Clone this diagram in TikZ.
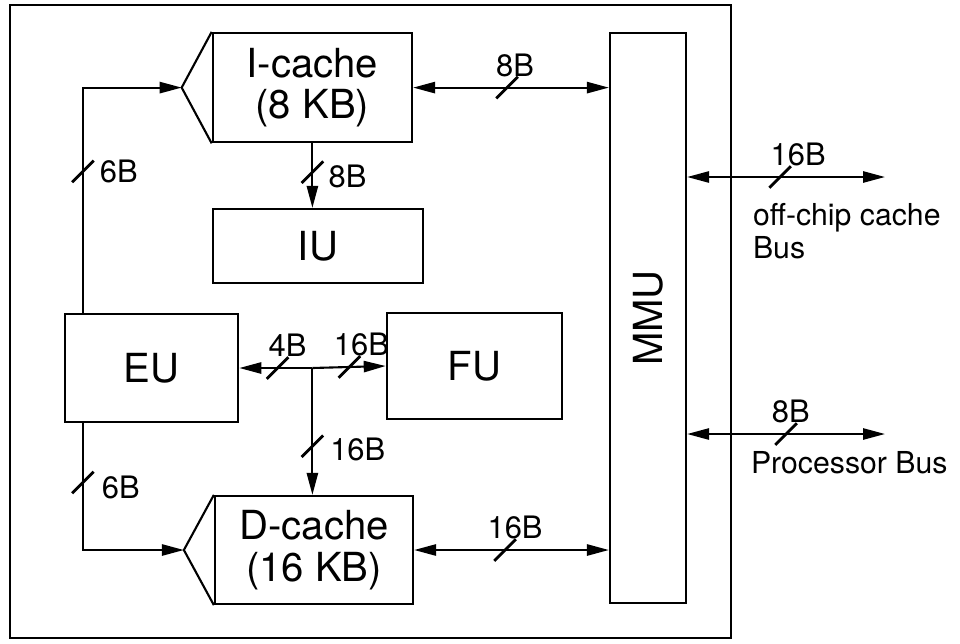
\documentclass[tikz,border=0pt]{standalone}
\usepackage{fontspec}
\setmainfont{TeX Gyre Heros}
\usetikzlibrary{calc,positioning,arrows.meta}

\begin{document}
\begin{tikzpicture}[
    >={Triangle[length=5.5mm,width=2.8mm]},
    line width=1.5pt,
    unit/.style={draw,line width=1.6pt,align=center,
      font=\fontsize{28.5}{29.5}\selectfont},
    wlabel/.style={inner sep=0pt,font=\fontsize{22}{24}\selectfont},
    note/.style={inner sep=0pt,anchor=north west,align=left,
      font=\fontsize{21.5}{23.5}\selectfont}
  ]
  \useasboundingbox (0,0) rectangle (24,-16.075);
  \draw[line width=1.7pt] (.25,-.125) rectangle (18.275,-15.95);

  \node[unit,minimum width=4.98cm,minimum height=2.73cm] (icache) at (7.81,-2.19) {I-cache\\(8 KB)};
  \node[unit,minimum width=5.25cm,minimum height=1.85cm] (iu) at (7.95,-6.15) {IU};
  \node[unit,minimum width=4.33cm,minimum height=2.7cm] (eu) at (3.79,-9.2) {EU};
  \node[unit,minimum width=4.38cm,minimum height=2.65cm] (fu) at (11.86,-9.15) {FU};
  \node[unit,minimum width=4.95cm,minimum height=2.7cm] (dcache) at (7.85,-13.75) {D-cache\\(16 KB)};
  \node[unit,rotate=90,minimum width=14.25cm,minimum height=1.9cm] (mmu) at (16.2,-7.95) {MMU};

  % selector wedges in front of the caches
  \coordinate (iin) at ($(icache.west)+(-.75,0)$);
  \coordinate (din) at ($(dcache.west)+(-.75,0)$);
  \draw (icache.north west) -- (iin) -- (icache.south west);
  \draw (dcache.north west) -- (din) -- (dcache.south west);

  % address paths from EU
  \draw[->] ($(eu.north west)+(.475,0)$) |- coordinate[pos=.314] (w1) (iin);
  \draw[->] ($(eu.south west)+(.475,0)$) |- coordinate[pos=.234] (w2) (din);

  % internal buses
  \coordinate (j) at (icache.south |- eu.east);
  \draw[->] (icache.south) -- coordinate[pos=.446] (w3) (icache.south |- iu.north);
  \draw[->] (j) -- coordinate[pos=.477] (w4) (eu.east);
  \draw[->] (j) -- coordinate[pos=.505] (w5) (fu.west);
  \draw[->] (j) -- coordinate[pos=.617] (w6) (j |- dcache.north);
  \draw[<->] (icache.east) -- coordinate[pos=.48] (w7) (icache.east -| mmu.north);
  \draw[<->] (dcache.east) -- coordinate[pos=.467] (w8) (dcache.east -| mmu.north);

  % off-chip buses
  \coordinate (offchip) at (22.125,-4.425);
  \coordinate (procbus) at (22.125,-10.85);
  \draw[<->] (offchip -| mmu.south) -- coordinate[pos=.47] (w9) (offchip);
  \draw[<->] (procbus -| mmu.south) -- coordinate[pos=.5] (w10) (procbus);

  \foreach \w in {w1,w2,w3,w4,w5,w6,w7,w8,w9,w10}
    \draw[line width=2pt] ($(\w)+(-.27,-.27)$) -- ($(\w)+(.27,.27)$);

  \node[wlabel,right=.4cm of w1] {6B};
  \node[wlabel,right=.45cm of w2,yshift=-.12cm] {6B};
  \node[wlabel,right=.38cm of w3,yshift=-.12cm] {8B};
  \node[wlabel,right=.42cm of w6,yshift=-.08cm] {16B};
  \node[wlabel,above=.25cm of w4,xshift=.25cm] {4B};
  \node[wlabel,above=.25cm of w5,xshift=.3cm] {16B};
  \node[wlabel,above=.25cm of w7,xshift=.2cm] {8B};
  \node[wlabel,above=.25cm of w8,xshift=.25cm] {16B};
  \node[wlabel,above=.25cm of w9,xshift=.45cm] {16B};
  \node[wlabel,above=.25cm of w10,xshift=.12cm] {8B};

  \node[note] (offnote) at (18.8,-5.05) {off-chip cache\\Bus};
  \node[note] (procnote) at (18.75,-11.25) {Processor Bus};
\end{tikzpicture}
\end{document}
